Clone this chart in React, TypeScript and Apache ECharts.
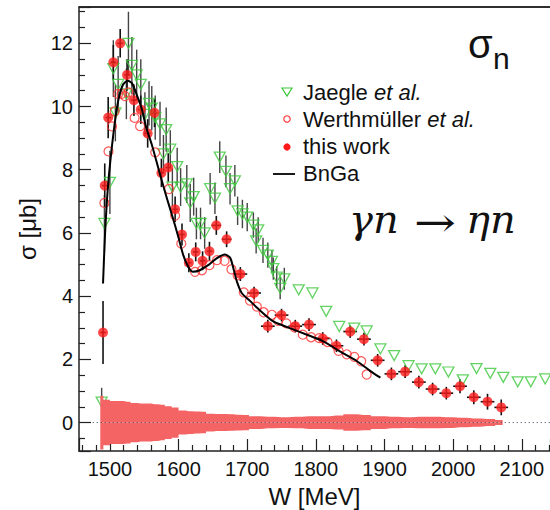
import React, { useEffect, useRef } from "react";
import * as echarts from "echarts";

// ---- "this work" (filled red) ----
const thisWorkW = [1490, 1492.5, 1497.5, 1505, 1515, 1525, 1535, 1545, 1555, 1565, 1575, 1585, 1595, 1605, 1615, 1625, 1635, 1645, 1655, 1670, 1690, 1710, 1730, 1750, 1770, 1790, 1810, 1830, 1850, 1870, 1890, 1910, 1930, 1950, 1970, 1990, 2010, 2030, 2050, 2070];
const thisWorkSigma = [2.85, 7.5, 9.65, 11.4, 12.0, 11.0, 10.2, 9.9, 9.15, 9.8, 7.9, 8.07, 6.75, 5.95, 5.06, 5.4, 5.12, 5.42, 6.24, 5.8, 4.7, 4.1, 3.05, 3.4, 3.05, 3.1, 2.66, 2.43, 2.88, 2.64, 1.97, 1.54, 1.61, 1.28, 1.06, 0.93, 1.15, 0.8, 0.66, 0.48];
const thisWorkErrY = [1.0, 0.7, 0.65, 0.55, 0.45, 0.5, 0.5, 0.45, 0.45, 0.45, 0.45, 0.45, 0.4, 0.35, 0.3, 0.3, 0.3, 0.3, 0.3, 0.25, 0.22, 0.2, 0.2, 0.2, 0.2, 0.2, 0.2, 0.2, 0.2, 0.2, 0.2, 0.2, 0.2, 0.2, 0.2, 0.2, 0.22, 0.22, 0.25, 0.25];
const thisWorkErrX = [4, 4, 4, 4, 4, 4, 4, 4, 4, 4, 4, 4, 4, 4, 4, 4, 4, 4, 7, 7, 10, 10, 10, 10, 10, 10, 10, 10, 10, 10, 10, 10, 10, 10, 10, 10, 10, 10, 10, 10];

// ---- Jaegle et al. (open green triangles) ----
const jaegleW = [1488, 1492, 1500, 1505, 1508, 1512, 1524, 1527, 1532, 1539, 1545, 1551, 1557, 1561, 1566, 1573, 1578, 1582, 1588, 1591, 1598, 1603, 1612, 1617, 1622, 1626, 1632, 1638, 1646, 1653, 1660, 1669, 1675, 1682, 1686, 1693, 1700, 1709, 1713, 1716, 1723, 1730, 1736, 1738, 1743, 1748, 1754, 1775, 1795, 1815, 1834, 1856, 1874, 1894, 1914, 1935, 1954, 1974, 1993, 2014, 2034, 2054, 2073, 2094, 2113, 2134];
const jaegleSigma = [0.65, 6.3, 7.6, 11.2, 9.8, 10.7, 10.4, 12.0, 11.3, 11.0, 10.7, 9.75, 10.1, 9.95, 9.65, 9.45, 8.5, 9.27, 8.65, 7.45, 8.1, 7.45, 7.55, 6.95, 7.15, 6.3, 6.3, 6.0, 7.4, 7.1, 8.4, 7.95, 7.4, 7.65, 6.7, 6.6, 6.5, 6.25, 5.75, 6.1, 5.45, 5.3, 5.1, 4.87, 4.6, 4.25, 4.55, 4.2, 4.1, 3.52, 3.04, 2.99, 2.9, 2.33, 2.12, 1.8, 1.7, 1.7, 1.6, 1.35, 1.71, 1.56, 1.43, 1.29, 1.29, 1.38];
const jaegleErr = [0.45, 0.9, 1.0, 0.9, 0.9, 0.9, 0.8, 1.0, 0.9, 0.8, 0.8, 0.7, 0.7, 0.7, 0.7, 0.7, 0.6, 0.7, 0.6, 0.6, 0.6, 0.6, 0.6, 0.6, 0.6, 0.5, 0.5, 0.5, 0.5, 0.5, 0.5, 0.5, 0.5, 0.5, 0.45, 0.45, 0.45, 0.4, 0.4, 0.4, 0.4, 0.4, 0.35, 0.35, 0.35, 0.35, 0.35, 0, 0, 0, 0, 0, 0, 0, 0, 0, 0, 0, 0, 0, 0, 0, 0, 0, 0, 0];

// ---- Werthmüller et al. (open red circles) ----
const werthW = [1492, 1498, 1503, 1507, 1512, 1517, 1522, 1527, 1536, 1544, 1566, 1586, 1595, 1604, 1624, 1634, 1645, 1656, 1667, 1677, 1686, 1695, 1704, 1714, 1724, 1736, 1745, 1757, 1769, 1781, 1793, 1805, 1817, 1833, 1845, 1856, 1866, 1874];
const werthSigma = [6.95, 8.58, 9.37, 9.85, 10.4, 10.4, 10.33, 10.45, 9.64, 9.38, 8.55, 7.39, 6.55, 5.66, 4.77, 4.82, 4.98, 5.14, 5.12, 4.85, 4.66, 4.12, 3.86, 3.67, 3.49, 3.41, 3.22, 3.14, 3.01, 2.78, 2.7, 2.67, 2.55, 2.27, 2.16, 2.08, 1.94, 1.52];

// ---- BnGa (black curve) ----
const bngaW = [1490, 1493, 1497.5, 1505, 1512, 1519, 1526, 1532, 1539, 1546, 1553, 1561, 1568, 1575, 1583, 1590, 1600, 1607, 1614, 1621, 1631, 1643, 1655, 1667, 1675, 1680, 1685, 1692, 1704, 1716, 1738, 1762, 1787, 1811, 1835, 1860, 1880, 1894];
const bngaSigma = [4.4, 6.0, 7.55, 9.12, 10.17, 10.69, 10.82, 10.74, 10.38, 9.96, 9.33, 8.8, 8.25, 7.7, 7.1, 6.6, 5.85, 5.29, 4.93, 4.77, 4.82, 4.98, 5.19, 5.32, 5.22, 4.87, 4.46, 4.1, 3.85, 3.6, 3.2, 2.99, 2.78, 2.57, 2.25, 1.94, 1.62, 1.42];

// ---- systematic error band (half width, around 0) ----
const bandW = [1486, 1495, 1505, 1515, 1525, 1535, 1545, 1555, 1565, 1575, 1585, 1595, 1605, 1615, 1625, 1635, 1645, 1655, 1665, 1675, 1685, 1695, 1710, 1730, 1750, 1770, 1790, 1810, 1830, 1850, 1870, 1890, 1910, 1930, 1950, 1970, 1990, 2010, 2030, 2050, 2072];
const bandHalf = [0.85, 0.72, 0.68, 0.68, 0.66, 0.62, 0.6, 0.6, 0.58, 0.56, 0.52, 0.48, 0.38, 0.36, 0.35, 0.34, 0.28, 0.27, 0.27, 0.26, 0.25, 0.24, 0.2, 0.18, 0.17, 0.18, 0.2, 0.2, 0.22, 0.26, 0.24, 0.2, 0.18, 0.17, 0.18, 0.18, 0.17, 0.15, 0.13, 0.11, 0.08];

const zeroLineW = [1475, 2141];

const FONT = "Liberation Sans, Arial, Helvetica, sans-serif";
const SERIF = "DejaVu Serif, Liberation Serif, serif";
const GREEN = "#3cc83c";
const RED = "#ff1a1a";
const AXIS = "#222";

function errorBars(ws: number[], ss: number[], ey: number[], ex: number[] | null, color: string, width: number) {
  return {
    type: "custom",
    silent: true,
    data: ws.map((w, i) => [w, ss[i], ey[i], ex ? ex[i] : 0]),
    encode: { x: 0, y: 1 },
    renderItem: (params: any, api: any) => {
      const x = api.value(0);
      const y = api.value(1);
      const e = api.value(2);
      const h = api.value(3);
      const children: any[] = [];
      if (e > 0) {
        const p0 = api.coord([x, y - e]);
        const p1 = api.coord([x, y + e]);
        children.push({ type: "line", shape: { x1: p0[0], y1: p0[1], x2: p1[0], y2: p1[1] }, style: { stroke: color, lineWidth: width } });
      }
      if (h > 0) {
        const q0 = api.coord([x - h, y]);
        const q1 = api.coord([x + h, y]);
        children.push({ type: "line", shape: { x1: q0[0], y1: q0[1], x2: q1[0], y2: q1[1] }, style: { stroke: color, lineWidth: width } });
      }
      return { type: "group", children };
    },
  };
}

export default function App() {
  const ref = useRef<HTMLDivElement>(null);
  useEffect(() => {
    if (!ref.current) return;
    const chart = echarts.init(ref.current, null, { renderer: "svg" });
    const axisLineStyle = { color: AXIS, width: 1.5 };
    chart.setOption({
      animation: false,
      backgroundColor: "#ffffff",
      grid: { left: 79, right: 0, top: 7, bottom: 59, containLabel: false, outerBoundsMode: "none" },
      xAxis: [
        {
          type: "value",
          min: 1455,
          max: 2141,
          splitNumber: 7,
          position: "bottom",
          axisLine: { show: true, onZero: false, lineStyle: axisLineStyle },
          axisTick: { show: true, inside: true, length: 12, lineStyle: { color: AXIS, width: 1.2 } },
          minorTick: { show: true, splitNumber: 5, length: 6, lineStyle: { color: AXIS, width: 1.2 } },
          axisLabel: {
            fontSize: 20,
            color: "#111",
            fontFamily: FONT,
            margin: 8,
            showMinLabel: false,
            showMaxLabel: false,
            formatter: (v: number) => String(Math.round(v)),
          },
          splitLine: { show: false },
          name: "W [MeV]",
          nameLocation: "middle",
          nameGap: 33,
          nameTextStyle: { fontSize: 24, fontFamily: FONT, color: "#111" },
        },
        {
          type: "value",
          min: 1455,
          max: 2141,
          position: "top",
          axisLine: { show: true, onZero: false, lineStyle: axisLineStyle },
          axisTick: { show: false },
          axisLabel: { show: false },
          splitLine: { show: false },
        },
      ],
      yAxis: {
        type: "value",
        min: -0.9,
        max: 13.15,
        splitNumber: 7,
        axisLine: { show: true, onZero: false, lineStyle: axisLineStyle },
        axisTick: { show: true, inside: true, length: 12, lineStyle: { color: AXIS, width: 1.2 } },
        minorTick: { show: true, splitNumber: 4, length: 6, lineStyle: { color: AXIS, width: 1.2 } },
        axisLabel: { fontSize: 20, color: "#111", fontFamily: FONT, margin: 6, showMinLabel: false, showMaxLabel: false },
        splitLine: { show: false },
        name: "σ [μb]",
        nameLocation: "middle",
        nameGap: 35,
        nameRotate: 90,
        nameTextStyle: { fontSize: 24, fontFamily: FONT, color: "#111" },
      },
      series: [
        {
          type: "line",
          data: bandW.map((w, i) => [w, bandHalf[i]]),
          step: "middle",
          symbol: "none",
          silent: true,
          lineStyle: { width: 0 },
          areaStyle: { color: "#f46464", opacity: 1 },
        },
        {
          type: "line",
          data: bandW.map((w, i) => [w, -bandHalf[i]]),
          step: "middle",
          symbol: "none",
          silent: true,
          lineStyle: { width: 0 },
          areaStyle: { color: "#f46464", opacity: 1 },
        },
        {
          type: "line",
          data: zeroLineW.map((w) => [w, 0]),
          symbol: "none",
          silent: true,
          lineStyle: { color: "#3a3a50", width: 1, type: [1, 3] },
        },
        errorBars(jaegleW, jaegleSigma, jaegleErr, null, "#444", 1.4),
        {
          type: "scatter",
          data: jaegleW.map((w, i) => [w, jaegleSigma[i]]),
          symbol: "triangle",
          symbolRotate: 180,
          symbolSize: [11, 10],
          silent: true,
          itemStyle: { color: "rgba(0,0,0,0)", borderColor: GREEN, borderWidth: 1.3 },
        },
        {
          type: "scatter",
          data: werthW.map((w, i) => [w, werthSigma[i]]),
          symbol: "circle",
          symbolSize: 9,
          silent: true,
          itemStyle: { color: "rgba(0,0,0,0)", borderColor: "#ff3030", borderWidth: 1.2 },
        },
        {
          type: "line",
          data: bngaW.map((w, i) => [w, bngaSigma[i]]),
          symbol: "none",
          smooth: 0.25,
          silent: true,
          lineStyle: { color: "#000", width: 2 },
        },
        errorBars(thisWorkW, thisWorkSigma, thisWorkErrY, thisWorkErrX, "#111", 1.6),
        {
          type: "scatter",
          data: thisWorkW.map((w, i) => [w, thisWorkSigma[i]]),
          symbol: "circle",
          symbolSize: 10,
          silent: true,
          itemStyle: { color: RED },
        },
      ],
      graphic: [
        { type: "line", shape: { x1: 79, y1: 7, x2: 550, y2: 7 }, style: { stroke: AXIS, lineWidth: 1.5 } },
        { type: "polygon", shape: { points: [[282, 88], [292, 88], [287, 96]] }, style: { fill: "none", stroke: GREEN, lineWidth: 1.2 } },
        { type: "circle", shape: { cx: 287, cy: 119, r: 3.2 }, style: { fill: "none", stroke: "#ff3030", lineWidth: 1.1 } },
        { type: "circle", shape: { cx: 287, cy: 147, r: 3.6 }, style: { fill: RED } },
        { type: "line", shape: { x1: 273, y1: 174, x2: 295, y2: 174 }, style: { stroke: "#000", lineWidth: 1.8 } },
        {
          type: "text",
          x: 303,
          y: 92,
          style: {
            text: "Jaegle {i|et al.}",
            font: `22px ${FONT}`,
            fill: "#111",
            verticalAlign: "middle",
            rich: { i: { fontStyle: "italic", fontSize: 22, fontFamily: FONT, fill: "#111" } },
          },
        },
        {
          type: "text",
          x: 303,
          y: 119,
          style: {
            text: "Werthmüller {i|et al.}",
            font: `22px ${FONT}`,
            fill: "#111",
            verticalAlign: "middle",
            rich: { i: { fontStyle: "italic", fontSize: 22, fontFamily: FONT, fill: "#111" } },
          },
        },
        { type: "text", x: 303, y: 146, style: { text: "this work", font: `22px ${FONT}`, fill: "#111", verticalAlign: "middle" } },
        { type: "text", x: 303, y: 173, style: { text: "BnGa", font: `22px ${FONT}`, fill: "#111", verticalAlign: "middle" } },
        { type: "text", x: 468, y: 44, style: { text: "σ", font: `40px ${FONT}`, fill: "#111", verticalAlign: "middle" } },
        { type: "text", x: 493, y: 58, style: { text: "n", font: `30px ${FONT}`, fill: "#111", verticalAlign: "middle" } },
        { type: "text", x: 349, y: 219, style: { text: "γn", font: `italic 40px ${SERIF}`, fill: "#111", verticalAlign: "middle" } },
        { type: "text", x: 414, y: 222, scaleX: 1.25, style: { text: "→", font: `40px ${SERIF}`, fill: "#111", verticalAlign: "middle" } },
        { type: "text", x: 466, y: 219, style: { text: "ηn", font: `italic 40px ${SERIF}`, fill: "#111", verticalAlign: "middle" } },
      ],
    });
    return () => chart.dispose();
  }, []);
  return <div ref={ref} style={{ position: "fixed", left: 0, top: 0, width: 550, height: 510, background: "#fff" }} />;
}
